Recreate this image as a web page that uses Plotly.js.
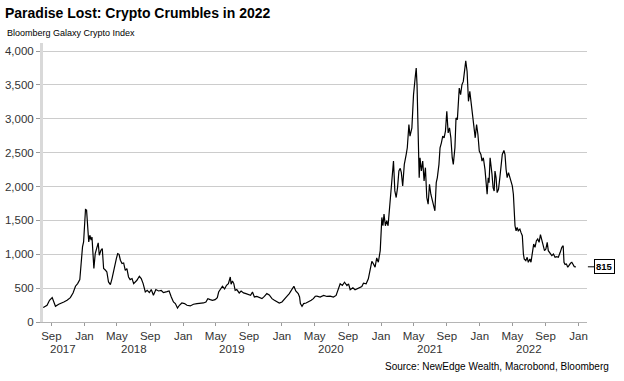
<!DOCTYPE html>
<html>
<head>
<meta charset="utf-8">
<script src="https://cdn.plot.ly/plotly-3.0.1.min.js"></script>
<style>
  html, body { margin: 0; padding: 0; background: #ffffff; }
  #chart { width: 624px; height: 381px; }
</style>
</head>
<body>
<div id="chart"></div>
<script>
// ---- Data ----
const dates = [
  '2017-08-02','2017-08-16','2017-08-25','2017-09-04','2017-09-16','2017-09-28','2017-10-17','2017-10-29',
  '2017-11-10','2017-11-20','2017-11-29','2017-12-07','2017-12-15','2017-12-20','2017-12-25','2017-12-29',
  '2018-01-02','2018-01-05','2018-01-09','2018-01-13','2018-01-17','2018-01-21','2018-01-26','2018-01-29',
  '2018-02-02','2018-02-05','2018-02-10','2018-02-16','2018-02-21','2018-02-25','2018-03-03','2018-03-08',
  '2018-03-13','2018-03-20','2018-03-25','2018-03-31','2018-04-07','2018-04-13','2018-04-21','2018-04-29',
  '2018-05-04','2018-05-09','2018-05-14','2018-05-20','2018-05-26','2018-06-01','2018-06-07','2018-06-13',
  '2018-06-19','2018-06-26','2018-07-02','2018-07-14','2018-07-23','2018-07-30','2018-08-06','2018-08-14',
  '2018-08-21','2018-08-29','2018-09-05','2018-09-13','2018-09-22','2018-10-02','2018-10-12','2018-10-20',
  '2018-11-02','2018-11-10','2018-11-18','2018-11-26','2018-12-03','2018-12-11','2018-12-18','2018-12-27',
  '2019-01-06','2019-01-15','2019-01-27','2019-02-08','2019-02-21','2019-03-05','2019-03-17','2019-03-26',
  '2019-04-02','2019-04-11','2019-04-19','2019-04-29','2019-05-07','2019-05-12','2019-05-18','2019-05-26',
  '2019-06-03','2019-06-10','2019-06-17','2019-06-24','2019-06-27','2019-07-02','2019-07-07','2019-07-12',
  '2019-07-18','2019-07-27','2019-08-03','2019-08-12','2019-08-21','2019-08-30','2019-09-07','2019-09-14',
  '2019-09-21','2019-09-30','2019-10-09','2019-10-19','2019-10-28','2019-11-06','2019-11-15','2019-11-25',
  '2019-12-04','2019-12-13','2019-12-22','2020-01-01','2020-01-10','2020-01-19','2020-01-28','2020-02-07',
  '2020-02-14','2020-02-21','2020-03-01','2020-03-06','2020-03-09','2020-03-15','2020-03-21','2020-03-30',
  '2020-04-08','2020-04-18','2020-04-26','2020-05-03','2020-05-09','2020-05-21','2020-06-03','2020-06-15',
  '2020-06-27','2020-07-09','2020-07-19','2020-07-28','2020-08-03','2020-08-11','2020-08-19','2020-08-28',
  '2020-09-03','2020-09-09','2020-09-19','2020-09-27','2020-10-10','2020-10-22','2020-10-28','2020-11-07',
  '2020-11-15','2020-11-22','2020-11-28','2020-12-04','2020-12-10','2020-12-16','2020-12-22','2020-12-29',
  '2021-01-04','2021-01-08','2021-01-12','2021-01-17','2021-01-22','2021-01-27','2021-02-01','2021-02-06',
  '2021-02-11','2021-02-16','2021-02-21','2021-02-26','2021-03-03','2021-03-08','2021-03-13','2021-03-17',
  '2021-03-22','2021-03-28','2021-04-04','2021-04-08','2021-04-14','2021-04-18','2021-04-25','2021-05-01',
  '2021-05-07','2021-05-11','2021-05-14','2021-05-18','2021-05-22','2021-05-25','2021-05-30','2021-06-04',
  '2021-06-09','2021-06-14','2021-06-19','2021-06-24','2021-06-29','2021-07-04','2021-07-09','2021-07-14',
  '2021-07-19','2021-07-24','2021-07-28','2021-08-03','2021-08-07','2021-08-12','2021-08-17','2021-08-22',
  '2021-08-27','2021-09-01','2021-09-06','2021-09-11','2021-09-16','2021-09-21','2021-09-25','2021-10-01',
  '2021-10-05','2021-10-10','2021-10-15','2021-10-17','2021-10-22','2021-10-27','2021-11-01','2021-11-06',
  '2021-11-10','2021-11-15','2021-11-20','2021-11-25','2021-11-30','2021-12-06','2021-12-10','2021-12-15',
  '2021-12-20','2021-12-25','2021-12-30','2022-01-05','2022-01-09','2022-01-14','2022-01-20','2022-01-24',
  '2022-01-28','2022-02-01','2022-02-04','2022-02-08','2022-02-12','2022-02-15','2022-02-19','2022-02-23',
  '2022-02-26','2022-03-02','2022-03-06','2022-03-11','2022-03-16','2022-03-21','2022-03-25','2022-03-31',
  '2022-04-04','2022-04-08','2022-04-12','2022-04-17','2022-04-22','2022-04-27','2022-05-01','2022-05-05',
  '2022-05-09','2022-05-11','2022-05-15','2022-05-19','2022-05-23','2022-05-29','2022-06-02','2022-06-07',
  '2022-06-11','2022-06-14','2022-06-20','2022-06-25','2022-06-29','2022-07-05','2022-07-09','2022-07-14',
  '2022-07-19','2022-07-24','2022-07-29','2022-08-03','2022-08-08','2022-08-13','2022-08-18','2022-08-23',
  '2022-08-28','2022-09-02','2022-09-07','2022-09-11','2022-09-18','2022-09-24','2022-09-30','2022-10-06',
  '2022-10-12','2022-10-18','2022-10-25','2022-10-31','2022-11-05','2022-11-08','2022-11-12','2022-11-17',
  '2022-11-22','2022-11-27','2022-12-02','2022-12-07','2022-12-12','2022-12-16','2022-12-22'
];
const values = [
  213,247,321,360,232,262,296,321,
  360,429,528,567,626,912,1109,1182,
  1503,1661,1651,1404,1182,1281,1208,1256,
  1060,789,1011,1109,1168,986,1060,1085,
  789,764,739,591,553,641,813,937,
  1011,1000,912,863,872,764,789,665,
  626,641,567,616,675,641,567,443,
  468,434,479,395,479,458,465,434,
  448,458,370,296,272,207,247,281,
  272,247,237,262,272,276,281,296,
  345,330,320,330,360,443,479,528,
  488,542,567,665,557,606,567,468,
  479,429,458,429,419,404,395,443,
  370,379,360,345,379,419,399,345,
  320,306,281,296,330,379,419,479,
  528,458,419,370,272,232,272,281,
  296,320,345,380,382,368,392,377,
  382,368,392,505,564,539,588,539,
  564,476,505,476,500,525,574,564,
  637,760,897,858,809,946,882,1054,
  1544,1421,1593,1421,1495,1421,1691,1985,
  2205,2377,1936,1838,1985,2230,2269,2205,
  2009,2328,2475,2573,2916,2744,2867,3357,
  3602,3749,3504,2916,2132,2426,2230,2377,
  2083,2279,1838,1740,2034,1887,1789,1691,
  1642,2058,2132,2328,2573,2646,2744,2720,
  2818,3112,2793,2867,2720,2426,2328,2573,
  3014,2989,3259,3455,3357,3504,3553,3700,
  3856,3700,3259,3406,3210,3063,2867,2720,
  2916,2769,2524,2475,2377,2426,2254,1984,
  1886,2131,2058,2425,2303,2180,1984,1935,
  2229,2131,1911,1960,2131,2278,2474,2533,
  2474,2254,2131,2205,2131,2058,2009,1886,
  1592,1421,1347,1396,1347,1372,1323,1274,
  1004,931,906,955,882,931,882,1004,
  1151,1102,1200,1225,1176,1289,1200,1127,
  1053,1078,1176,1053,1004,980,1004,955,
  965,955,1029,1102,1127,882,848,857,
  808,848,867,882,848,818,815
];

// Axis tick definitions
const monthTickDates = ['2017-09-01','2018-01-01','2018-05-01','2018-09-01','2019-01-01','2019-05-01','2019-09-01',
  '2020-01-01','2020-05-01','2020-09-01','2021-01-01','2021-05-01','2021-09-01','2022-01-01','2022-05-01','2022-09-01','2023-01-01'];
const monthTickLabels = ['Sep','Jan','May','Sep','Jan','May','Sep','Jan','May','Sep','Jan','May','Sep','Jan','May','Sep','Jan'];
const yearTickDates = ['2018-01-01','2019-01-01','2020-01-01','2021-01-01','2022-01-01','2023-01-01'];
const yearLabels = ['2017','2018','2019','2020','2021','2022'];
const yearLabelDates = ['2017-10-15','2018-07-02','2019-07-02','2020-07-01','2021-07-02','2022-07-03'];
const yTickVals = [0,500,1000,1500,2000,2500,3000,3500,4000];

const FONT = 'Liberation Sans, Arial, sans-serif';
const xRange = ['2017-08-01','2023-02-01'];

const trace = {
  type: 'scatter', mode: 'lines',
  x: dates, y: values,
  line: { color: '#000000', width: 1.2 },
  hoverinfo: 'x+y', showlegend: false
};

const annotations = yearLabels.map((t, i) => ({
  text: t, x: yearLabelDates[i], xref: 'x', y: -0.098, yref: 'paper',
  xanchor: 'center', yanchor: 'middle', showarrow: false,
  font: { family: FONT, size: 11.5, color: '#333333' }
}));
annotations.push({
  text: 'Bloomberg Galaxy Crypto Index', xref: 'paper', yref: 'paper',
  x: -0.070, y: 1.036, xanchor: 'left', yanchor: 'middle', showarrow: false,
  font: { family: FONT, size: 9, color: '#000000' }
});
annotations.push({
  text: 'Source: NewEdge Wealth, Macrobond, Bloomberg', xref: 'paper', yref: 'paper',
  x: 1.044, y: -0.161, xanchor: 'right', yanchor: 'middle', showarrow: false,
  font: { family: FONT, size: 10, color: '#000000' }
});
const lastIdx = values.length - 1;
annotations.push({
  text: '<b>' + values[lastIdx] + '</b>', x: dates[lastIdx], y: values[lastIdx], xref: 'x', yref: 'y',
  showarrow: true, ax: 29, ay: 0, arrowhead: 0, arrowwidth: 1, arrowcolor: '#000000', standoff: 12,
  bordercolor: '#000000', borderwidth: 1, borderpad: 1, bgcolor: '#ffffff',
  font: { family: FONT, size: 9.5, color: '#000000' }
});

const layout = {
  width: 624, height: 381,
  margin: { l: 43, r: 37, t: 43, b: 59 },
  paper_bgcolor: '#ffffff', plot_bgcolor: '#ffffff',
  font: { family: FONT, color: '#333333' },
  title: {
    text: '<b>Paradise Lost: Crypto Crumbles in 2022</b>',
    x: 0.008, xref: 'container', xanchor: 'left',
    y: 0.966, yref: 'container', yanchor: 'middle',
    font: { family: FONT, size: 14, color: '#000000' }
  },
  xaxis: {
    type: 'date', range: xRange,
    tickmode: 'array', tickvals: monthTickDates, ticktext: monthTickLabels,
    ticks: 'outside', ticklen: 3, tickwidth: 1, tickcolor: '#9a9a9a',
    showgrid: false, zeroline: false,
    showline: true, linecolor: '#b5b5b5', linewidth: 1,
    tickfont: { family: FONT, size: 11.5, color: '#333333' },
    fixedrange: true
  },
  xaxis2: {
    type: 'date', range: xRange, overlaying: 'x', anchor: 'y', side: 'bottom',
    tickmode: 'array', tickvals: yearTickDates,
    ticks: 'outside', ticklen: 6, tickwidth: 1, tickcolor: '#9a9a9a',
    showticklabels: false, showgrid: false, zeroline: false, showline: false,
    fixedrange: true
  },
  yaxis: {
    range: [0, 4120],
    tickmode: 'array', tickvals: yTickVals, tickformat: ',d',
    ticks: 'outside', ticklen: 4, tickwidth: 1, tickcolor: '#9a9a9a',
    showgrid: true, gridcolor: '#cccccc', gridwidth: 1,
    zeroline: false,
    showline: true, linecolor: '#d9d9d9', linewidth: 3,
    tickfont: { family: FONT, size: 11.5, color: '#333333' },
    fixedrange: true
  },
  annotations: annotations
};

Plotly.newPlot('chart', [trace], layout, { displayModeBar: false, staticPlot: true });
</script>
</body>
</html>
